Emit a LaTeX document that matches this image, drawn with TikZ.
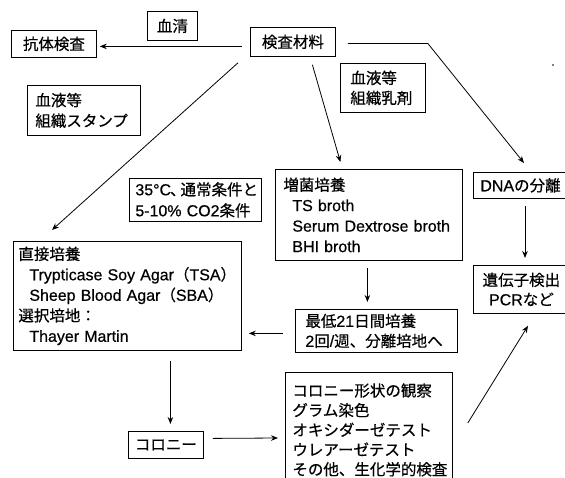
\documentclass[tikz,border=0pt]{standalone}
\usepackage{fontspec}
\setmainfont[FakeBold=0.5]{Noto Sans CJK JP}
\newfontfamily\latfont[Scale=1.03,FakeBold=0.5]{Liberation Sans}
\newcommand{\lat}[1]{{\latfont #1}}
\usetikzlibrary{arrows.meta,calc}
\begin{document}
\begin{tikzpicture}[x=1pt,y=-1pt,
  box/.style={draw, line width=0.8pt, inner ysep=0pt, font=\fontsize{15.5}{20.5}\selectfont},
  lbox/.style={box, align=left},
  cbox/.style={box, align=center},
  arr/.style={-{Stealth[length=7pt,width=5.5pt]}, line width=0.8pt}]
\useasboundingbox (0,0) rectangle (565,477);
\fill[white] (0,0) rectangle (565,477);
\clip (0,0) rectangle (565,477);

\node[cbox, anchor=north west, minimum width=85, minimum height=27, inner xsep=0] (kotai) at (11,30) {抗体検査};
\node[cbox, anchor=north west, minimum width=50, minimum height=29, inner xsep=0] (kessei) at (147,11) {血清};
\node[cbox, anchor=north west, minimum width=85, minimum height=29, inner xsep=0] (kensa) at (250,27) {検査材料};
\node[lbox, anchor=north west, text width=97, inner xsep=8, minimum height=50] (stamp) at (27,85) {血液等\\組織スタンプ};
\node[lbox, anchor=north west, text width=65, inner xsep=10, minimum height=49, font=\fontsize{15.5}{20}\selectfont] (nyuzai) at (340,63) {血液等\\組織乳剤};
\node[lbox, anchor=north west, text width=120, inner xsep=6, minimum height=43, font=\fontsize{15.5}{21}\selectfont] (cond) at (129,178) {\lat{35°C}\kern-1pt、\kern-5pt 通常条件と\\\lat{5-10\%~CO2}条件};
\node[lbox, anchor=north west, text width=171, inner xsep=8, minimum height=91] (zokin) at (275,169) {増菌培養\\\hspace*{9pt}\lat{TS~broth}\\\hspace*{9pt}\lat{Serum~Dextrose~broth}\\\hspace*{9pt}\lat{BHI~broth}};
\node[box, anchor=north west, inner xsep=7, minimum height=26] (dna) at (473,172) {\lat{DNA}の分離};
\node[cbox, anchor=north west, minimum width=96, minimum height=48, inner xsep=0, font=\fontsize{15.5}{19.5}\selectfont] (idenshi) at (473,265) {遺伝子検出\\\lat{PCR}など};
\node[lbox, anchor=north west, text width=218, inner xsep=5, minimum height=109] (chokusetsu) at (13,241) {直接培養\\\hspace*{11pt}\lat{Trypticase~Soy~Agar}（\lat{TSA}）\\\hspace*{11pt}\lat{Sheep~Blood~Agar}（\lat{SBA}）\\選択培地：\\\hspace*{11pt}\lat{Thayer~Martin}};
\node[lbox, anchor=north west, text width=142, inner xsep=10, minimum height=43, font=\fontsize{15.5}{20}\selectfont] (saitei) at (295,309) {最低\lat{21}日間培養\\\lat{2}回\lat{/}週、分離培地へ};
\node[cbox, anchor=north west, minimum width=75, minimum height=27, inner xsep=0] (colony) at (128,431) {コロニー};
\node[lbox, anchor=north west, text width=153, inner xsep=7, minimum height=115, font=\fontsize{15.5}{19.7}\selectfont] (list) at (285,372) {コロニー形状の観察\\グラム染色\\オキシダーゼテスト\\ウレアーゼテスト\\その他、生化学的検査};

\draw[arr] ($(kensa.west)+(-8,4.5)$) -- ($(kotai.east)+(3,2.5)$);
\draw[arr] ($(kensa.south west)+(-12,6)$) -- ($(chokusetsu.north west)+(39,-11)$);
\draw[arr] ($(kensa.south)+(19.5,8)$) -- ($(zokin.north)+(-28.5,-7)$);
\draw[arr] ($(kensa.east)+(12,1.5)$) -- ($(kensa.east)+(92,1.5)$) -- ($(dna.north west)+(51,-9)$);
\draw[arr] ($(dna.south west)+(52,7)$) -- ($(idenshi.north west)+(52,-7)$);
\draw[arr] ($(zokin.south)+(-1.5,7)$) -- ($(saitei.north)+(-9,-7)$);
\draw[arr] ($(saitei.west)+(-12,2.5)$) -- ($(chokusetsu.east)+(7,37.5)$);
\draw[arr] ($(chokusetsu.south)+(43,10)$) -- ($(colony.north)+(4.5,-7)$);
\draw[arr] ($(colony.east)+(9,-6.5)$) -- ($(list.north west)+(-7,66)$);
\draw[arr] ($(list.north east)+(15,51)$) -- ($(idenshi.south west)+(55,12)$);
\fill (553,65) circle (0.8);
\end{tikzpicture}
\end{document}
